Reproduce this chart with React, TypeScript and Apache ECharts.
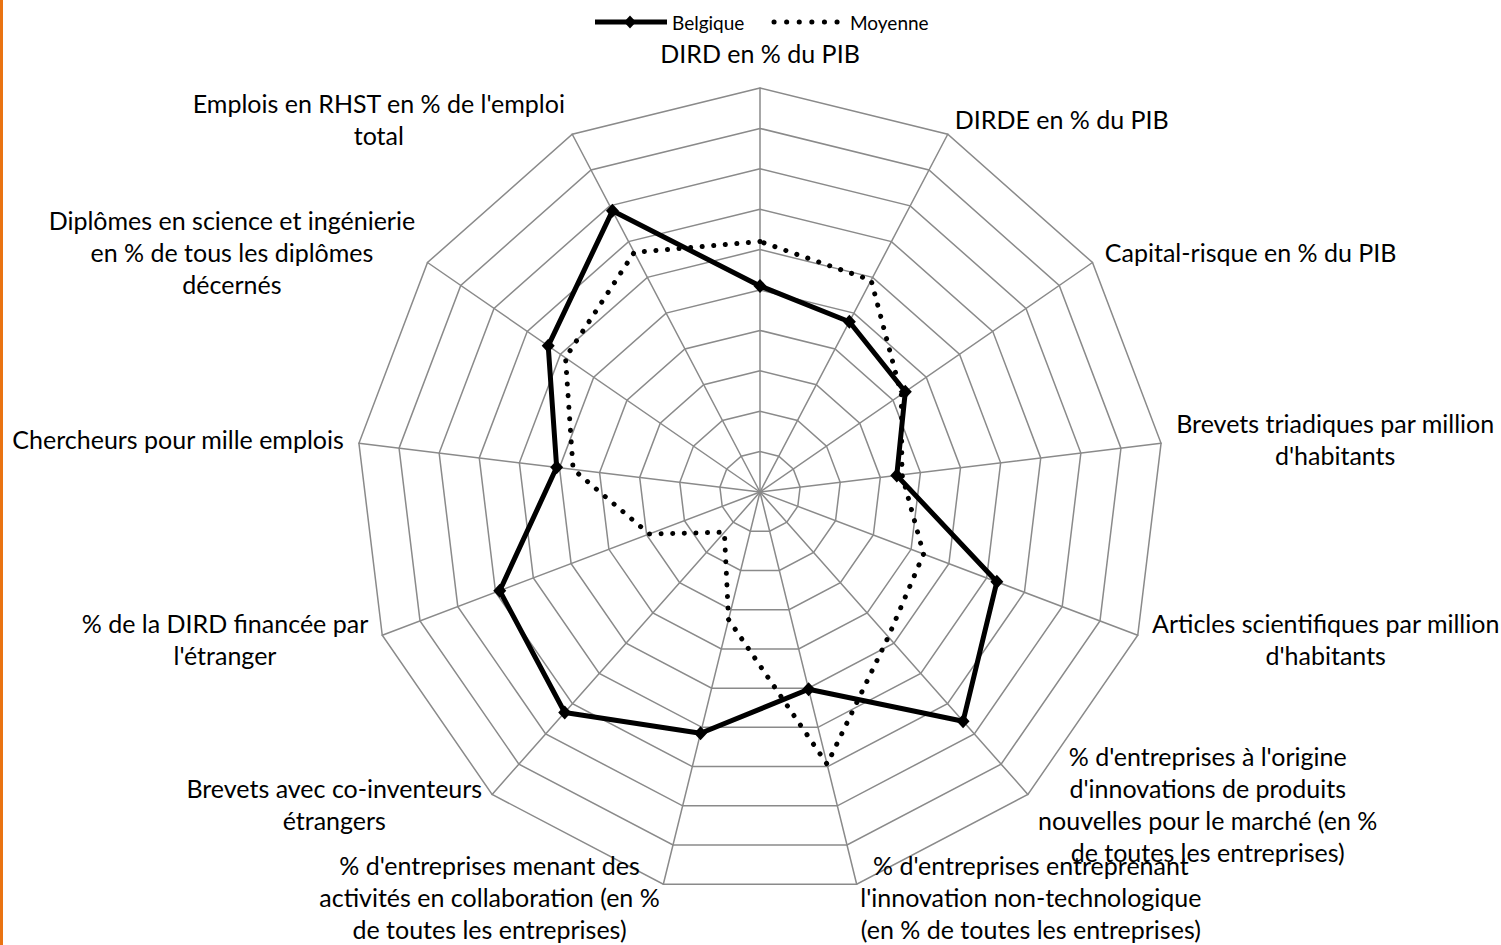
import React, { useEffect, useRef } from "react";
import * as echarts from "echarts";

// Indicator labels (clockwise from the top), lines split as in the picture
const indicatorNames: string[] = [
  "DIRD en % du PIB",
  "DIRDE en % du PIB",
  "Capital-risque en % du PIB",
  "Brevets triadiques par million\nd'habitants",
  "Articles scientifiques par million\nd'habitants",
  "% d'entreprises à l'origine\nd'innovations de produits\nnouvelles pour le marché (en %\nde toutes les entreprises)",
  "% d'entreprises entreprenant\nl'innovation non-technologique\n(en % de toutes les entreprises)",
  "% d'entreprises menant des\nactivités en collaboration (en %\nde toutes les entreprises)",
  "Brevets avec co-inventeurs\nétrangers",
  "% de la DIRD financée par\nl'étranger",
  "Chercheurs pour mille emplois",
  "Diplômes en science et ingénierie\nen % de tous les diplômes\ndécernés",
  "Emplois en RHST en % de l'emploi\ntotal",
];

const seriesNames: string[] = ["Belgique", "Moyenne"];

// Normalised scores (0-10), same order as indicatorNames
const belgique: number[] = [5.1, 4.76, 4.37, 3.41, 6.27, 7.58, 5.03, 6.15, 7.29, 6.89, 5.07, 6.37, 7.86];
const moyenne: number[] = [6.2, 5.92, 4.25, 3.54, 4.33, 4.79, 6.94, 3.25, 1.33, 2.93, 4.66, 5.85, 6.7];

const axisMax = 10;
const ringCount = 10;

const FONT = "Lato";

export default function App() {
  const ref = useRef<HTMLDivElement>(null);

  useEffect(() => {
    if (!ref.current) return;
    const chart = echarts.init(ref.current, undefined, { renderer: "svg" });
    const n = indicatorNames.length;
    // ECharts lays indicators out counter-clockwise; reorder for clockwise display
    const order = [0, ...Array.from({ length: n - 1 }, (_, i) => n - 1 - i)];
    const reorder = (arr: any[]) => order.map((i) => arr[i]);

    const gridColor = "#8a8a8a";

    chart.setOption({
      animation: false,
      backgroundColor: "#ffffff",
      textStyle: { fontFamily: FONT },
      radar: {
        center: [760, 492],
        radius: 404,
        startAngle: 90,
        shape: "polygon",
        splitNumber: ringCount,
        axisNameGap: 15,
        indicator: reorder(indicatorNames).map((name: string) => ({ name, min: 0, max: axisMax })),
        axisName: {
          color: "#000",
          fontFamily: FONT,
          fontSize: 25,
          lineHeight: 32,
          formatter: (name: string) => {
            const tag = name === indicatorNames[0] ? "t" : "c";
            return name
              .split("\n")
              .map((l) => `{${tag}|${l}}`)
              .join("\n");
          },
          rich: {
            c: { align: "center", fontFamily: FONT, fontSize: 25, lineHeight: 32, color: "#000", padding: [0, 0, 4, 0] },
            t: { align: "center", fontFamily: FONT, fontSize: 25, lineHeight: 32, color: "#000", padding: [0, 0, 8, 0] },
          },
        },
        splitLine: { lineStyle: { color: gridColor, width: 1.5 } },
        splitArea: { show: false },
        axisLine: { lineStyle: { color: gridColor, width: 1.5 } },
        axisTick: { show: false },
        axisLabel: { show: false },
      },
      series: [
        {
          type: "radar",
          data: [
            {
              name: seriesNames[1],
              value: reorder(moyenne),
              symbol: "none",
              lineStyle: { color: "#000", width: 5, type: [0.1, 11.5], cap: "round" },
              itemStyle: { color: "#000" },
            },
            {
              name: seriesNames[0],
              value: reorder(belgique),
              symbol: "diamond",
              symbolSize: [13, 14],
              lineStyle: { color: "#000", width: 5, type: "solid", join: "round" },
              itemStyle: { color: "#000" },
            },
          ],
        },
      ],
      graphic: [
        { type: "rect", shape: { x: 0, y: 0, width: 3, height: 945 }, style: { fill: "#E97312" }, silent: true },
        // legend: Belgique
        { type: "line", shape: { x1: 595, y1: 22, x2: 667, y2: 22 }, style: { stroke: "#000", lineWidth: 5 } },
        { type: "polygon", shape: { points: [[630, 15.5], [636, 22], [630, 28.5], [624, 22]] }, style: { fill: "#000" } },
        {
          type: "text",
          x: 672,
          y: 22,
          style: { text: seriesNames[0], fill: "#000", font: `19px ${FONT}`, textAlign: "left", textVerticalAlign: "middle" },
        },
        // legend: Moyenne
        {
          type: "line",
          shape: { x1: 774, y1: 22, x2: 838, y2: 22 },
          style: { stroke: "#000", lineWidth: 5, lineDash: [0.1, 12.5], lineCap: "round" },
        },
        {
          type: "text",
          x: 850,
          y: 22,
          style: { text: seriesNames[1], fill: "#000", font: `19px ${FONT}`, textAlign: "left", textVerticalAlign: "middle" },
        },
      ],
    });
    return () => chart.dispose();
  }, []);

  return (
    <div
      ref={ref}
      style={{ position: "fixed", left: 0, top: 0, width: 1501, height: 945, background: "#fff" }}
    />
  );
}
